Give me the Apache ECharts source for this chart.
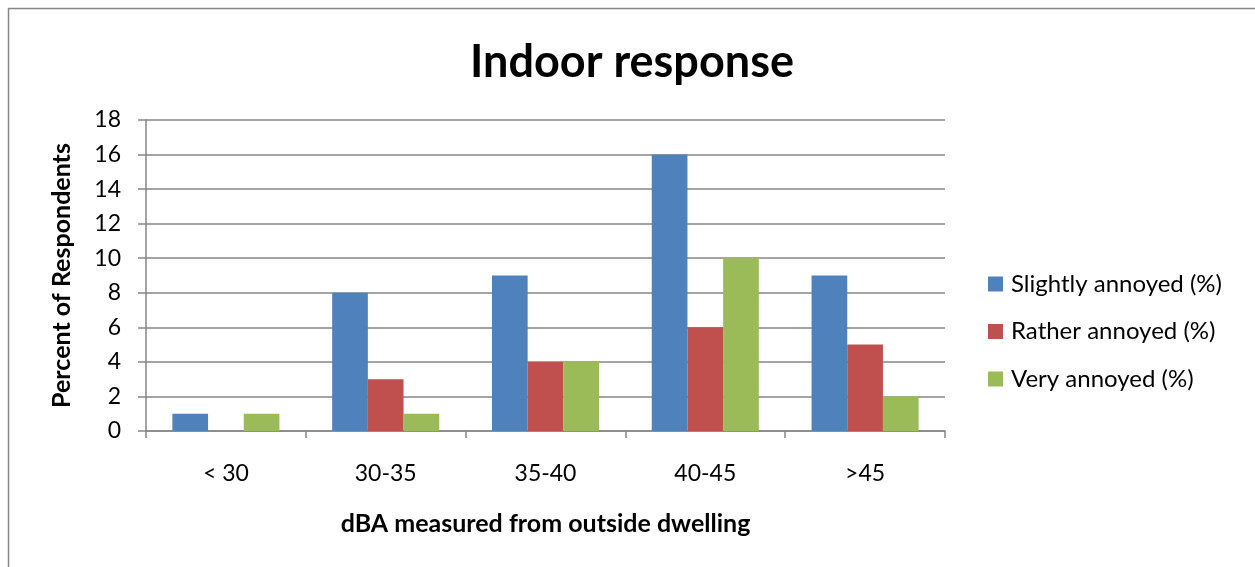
<!DOCTYPE html>
<html>
<head>
<meta charset="utf-8">
<style>
  html, body { margin: 0; padding: 0; background: #fff; }
  #chart { width: 1255px; height: 567px; }
</style>
<script src="https://cdn.jsdelivr.net/npm/echarts@6/dist/echarts.min.js"></script>
</head>
<body>
<div id="chart"></div>
<script>
// Noise bands (dBA outside the dwelling)
const categories = ['< 30', '30-35', '35-40', '40-45', '>45'];
// Share of respondents per annoyance level
const slightlyAnnoyed = [1, 8, 9, 16, 9];
const ratherAnnoyed = [0, 3, 4, 6, 5];
const veryAnnoyed = [1, 1, 4, 10, 2];
const seriesNames = ['Slightly annoyed (%)', 'Rather annoyed (%)', 'Very annoyed (%)'];
const seriesColors = ['#4F81BD', '#C0504D', '#9BBB59'];

const font = 'Lato, "Open Sans", "Liberation Sans", sans-serif';
const gridColor = '#868686';

const chart = echarts.init(document.getElementById('chart'), null, { renderer: 'canvas' });

const values = [slightlyAnnoyed, ratherAnnoyed, veryAnnoyed];

chart.setOption({
  animation: false,
  backgroundColor: '#fff',
  textStyle: { fontFamily: font },
  graphic: [{
    type: 'rect',
    shape: { x: 8.5, y: 8.5, width: 1400, height: 800 },
    style: { fill: 'none', stroke: '#868686', lineWidth: 1.5 },
    silent: true
  }],
  title: {
    text: 'Indoor response',
    left: 632,
    textAlign: 'center',
    top: 35,
    padding: 0,
    textStyle: { fontFamily: font, fontSize: 45, fontWeight: 'bold', color: '#000', lineHeight: 54 }
  },
  legend: {
    orient: 'vertical',
    left: 983,
    top: 267,
    itemWidth: 15,
    itemHeight: 15,
    itemGap: 23.5,
    icon: 'rect',
    selectedMode: false,
    textStyle: { fontFamily: font, fontSize: 24, color: '#000', lineHeight: 24, padding: [0, 0, 0, 3] },
    data: seriesNames
  },
  grid: { left: 146, right: 310, top: 120, bottom: 136, containLabel: false },
  xAxis: {
    type: 'category',
    data: categories,
    name: 'dBA measured from outside dwelling',
    nameLocation: 'middle',
    nameGap: 80,
    nameTextStyle: { fontFamily: font, fontSize: 25, fontWeight: 'bold', color: '#000' },
    axisLine: { show: true, lineStyle: { color: gridColor, width: 1.5 } },
    axisTick: { show: true, alignWithLabel: false, length: 7, lineStyle: { color: gridColor, width: 1.5 } },
    axisLabel: { margin: 31, fontFamily: font, fontSize: 23, color: '#000' }
  },
  yAxis: {
    type: 'value',
    min: 0,
    max: 18,
    interval: 2,
    name: 'Percent of Respondents',
    nameLocation: 'middle',
    nameRotate: 90,
    nameGap: 72,
    nameTextStyle: { fontFamily: font, fontSize: 25, fontWeight: 'bold', color: '#000' },
    axisLine: { show: true, lineStyle: { color: gridColor, width: 1.5 } },
    axisTick: { show: true, length: 8, lineStyle: { color: gridColor, width: 1.5 } },
    axisLabel: { margin: 25, fontFamily: font, fontSize: 23, color: '#000' },
    splitLine: { show: true, lineStyle: { color: gridColor, width: 1.5 } }
  },
  series: seriesNames.map((name, i) => ({
    name,
    type: 'bar',
    data: values[i],
    barGap: '0%',
    barCategoryGap: '33%',
    itemStyle: { color: seriesColors[i] },
    emphasis: { disabled: true }
  }))
});
</script>
</body>
</html>
